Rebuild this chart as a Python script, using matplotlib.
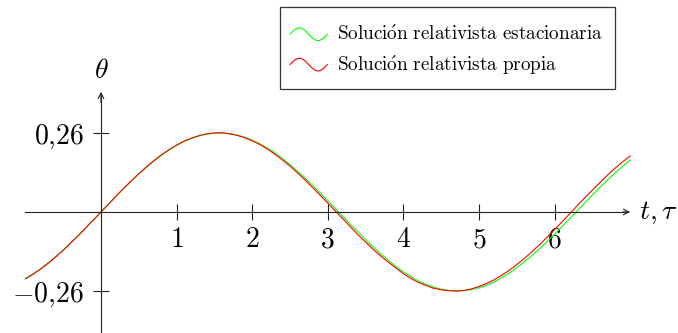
import numpy as np
import matplotlib.pyplot as plt
from matplotlib.legend_handler import HandlerBase
from matplotlib.lines import Line2D
from matplotlib.patches import Rectangle

plt.rcParams['mathtext.fontset'] = 'cm'

# tiempo (t, tau) y angulo theta de las dos soluciones
t = [-1.0, -0.9, -0.8, -0.7, -0.6, -0.5, -0.4, -0.3, -0.2, -0.1,
     0.0, 0.1, 0.2, 0.3, 0.4, 0.5, 0.6, 0.7, 0.8, 0.9,
     1.0, 1.1, 1.2, 1.3, 1.4, 1.5, 1.6, 1.7, 1.8, 1.9,
     2.0, 2.1, 2.2, 2.3, 2.4, 2.5, 2.6, 2.7, 2.8, 2.9,
     3.0, 3.1, 3.2, 3.3, 3.4, 3.5, 3.6, 3.7, 3.8, 3.9,
     4.0, 4.1, 4.2, 4.3, 4.4, 4.5, 4.6, 4.7, 4.8, 4.9,
     5.0, 5.1, 5.2, 5.3, 5.4, 5.5, 5.6, 5.7, 5.8, 5.9,
     6.0, 6.1, 6.2, 6.3, 6.4, 6.5, 6.6, 6.7, 6.8, 6.9, 7.0]
theta_estacionaria = [
    -0.219, -0.204, -0.187, -0.167, -0.147, -0.125, -0.101, -0.077, -0.052, -0.026,
    0.000, 0.026, 0.052, 0.077, 0.101, 0.125, 0.147, 0.167, 0.187, 0.204,
    0.219, 0.232, 0.242, 0.251, 0.256, 0.259, 0.260, 0.258, 0.253, 0.246,
    0.236, 0.224, 0.210, 0.194, 0.176, 0.156, 0.134, 0.111, 0.087, 0.062,
    0.037, 0.011, -0.015, -0.041, -0.066, -0.091, -0.115, -0.138, -0.159, -0.179,
    -0.197, -0.213, -0.227, -0.238, -0.247, -0.254, -0.258, -0.260, -0.259, -0.255,
    -0.249, -0.241, -0.230, -0.216, -0.201, -0.183, -0.164, -0.143, -0.121, -0.097,
    -0.073, -0.047, -0.022, 0.004, 0.030, 0.056, 0.081, 0.105, 0.128, 0.150, 0.171]
theta_propia = [
    -0.220, -0.205, -0.188, -0.169, -0.148, -0.126, -0.102, -0.078, -0.052, -0.026,
    0.000, 0.026, 0.052, 0.078, 0.102, 0.126, 0.148, 0.169, 0.188, 0.205,
    0.220, 0.233, 0.243, 0.251, 0.257, 0.260, 0.260, 0.257, 0.252, 0.244,
    0.234, 0.222, 0.207, 0.190, 0.171, 0.151, 0.128, 0.105, 0.080, 0.055,
    0.029, 0.003, -0.023, -0.049, -0.075, -0.099, -0.123, -0.145, -0.165, -0.184,
    -0.203, -0.219, -0.232, -0.242, -0.251, -0.256, -0.259, -0.260, -0.258, -0.253,
    -0.245, -0.235, -0.223, -0.208, -0.192, -0.173, -0.153, -0.131, -0.108, -0.083,
    -0.058, -0.032, -0.006, 0.021, 0.047, 0.072, 0.097, 0.121, 0.144, 0.165, 0.184]

xticks = [1, 2, 3, 4, 5, 6]
yticks = [-0.26, 0.26]
ytick_labels = [r'$-0{,}26$', r'$0{,}26$']
etiquetas = [r'$\mathrm{Soluci\acute{o}n\ relativista\ estacionaria}$',
             r'$\mathrm{Soluci\acute{o}n\ relativista\ propia}$']


class SineHandler(HandlerBase):
    # icono de la leyenda: una onda pequena
    def create_artists(self, legend, orig_handle, xdescent, ydescent,
                       width, height, fontsize, trans):
        s = np.linspace(0, 1, 40)
        xs = s * width - xdescent
        ys = height / 2 - ydescent + 0.33 * fontsize * np.sin(2 * np.pi * s)
        ln = Line2D(xs, ys, color=orig_handle.get_color(),
                    lw=orig_handle.get_linewidth())
        ln.set_transform(trans)
        return [ln]


W, H = 678, 333
fig = plt.figure(figsize=(6.78, 3.33), dpi=100)
ax = fig.add_axes([0, 0, 1, 1])
ax.set_xlim(-1.336, 7.632)
ax.set_ylim(-0.398, 0.697)

l1, = ax.plot(t, theta_estacionaria, color='#00ff00', lw=0.8)
l2, = ax.plot(t, theta_propia, color='#ff0000', lw=0.8)

for s in ['top', 'right']:
    ax.spines[s].set_visible(False)
ax.spines['bottom'].set_position(('data', 0))
ax.spines['left'].set_position(('data', 0))
ax.spines['bottom'].set_bounds(-1.0, 6.95)
ax.spines['left'].set_bounds(-0.4, 0.385)
for s in ['bottom', 'left']:
    ax.spines[s].set_linewidth(0.8)
    ax.spines[s].set_color('#222222')

ax.annotate('', xy=(7.0, 0), xytext=(6.9, 0),
            arrowprops=dict(arrowstyle='->', lw=0.8, color='#222222',
                            shrinkA=0, shrinkB=0, mutation_scale=10))
ax.annotate('', xy=(0, 0.395), xytext=(0, 0.36),
            arrowprops=dict(arrowstyle='->', lw=0.8, color='#222222',
                            shrinkA=0, shrinkB=0, mutation_scale=10))

ax.set_xticks(xticks)
ax.set_xticklabels([r'$%d$' % v for v in xticks])
ax.set_yticks(yticks)
ax.set_yticklabels(ytick_labels)
ax.tick_params(direction='inout', length=11, width=0.8, color='#222222',
               labelsize=20)
ax.tick_params(axis='x', pad=4)
ax.tick_params(axis='y', pad=7)

ax.text(0, 0.467, r'$\theta$', fontsize=20, ha='center', va='center')
ax.text(7.12, 0, r'$t, \tau$', fontsize=20, ha='left', va='center')

# leyenda sin marco propio; el recuadro se dibuja aparte
ax.legend([l1, l2], etiquetas, handler_map={Line2D: SineHandler()},
          loc='upper left', bbox_to_anchor=(290 / W, 1 - 21 / H),
          bbox_transform=fig.transFigure, borderaxespad=0, frameon=False,
          fontsize=13.8, handlelength=1.95, handleheight=1.75,
          handletextpad=0.5, labelspacing=0.2, borderpad=0)
fig.patches.append(Rectangle((280 / W, 1 - 89 / H), 335 / W, 82 / H,
                             transform=fig.transFigure, fill=False,
                             ec='#333333', lw=0.9))

fig.savefig('out.png', dpi=100)
